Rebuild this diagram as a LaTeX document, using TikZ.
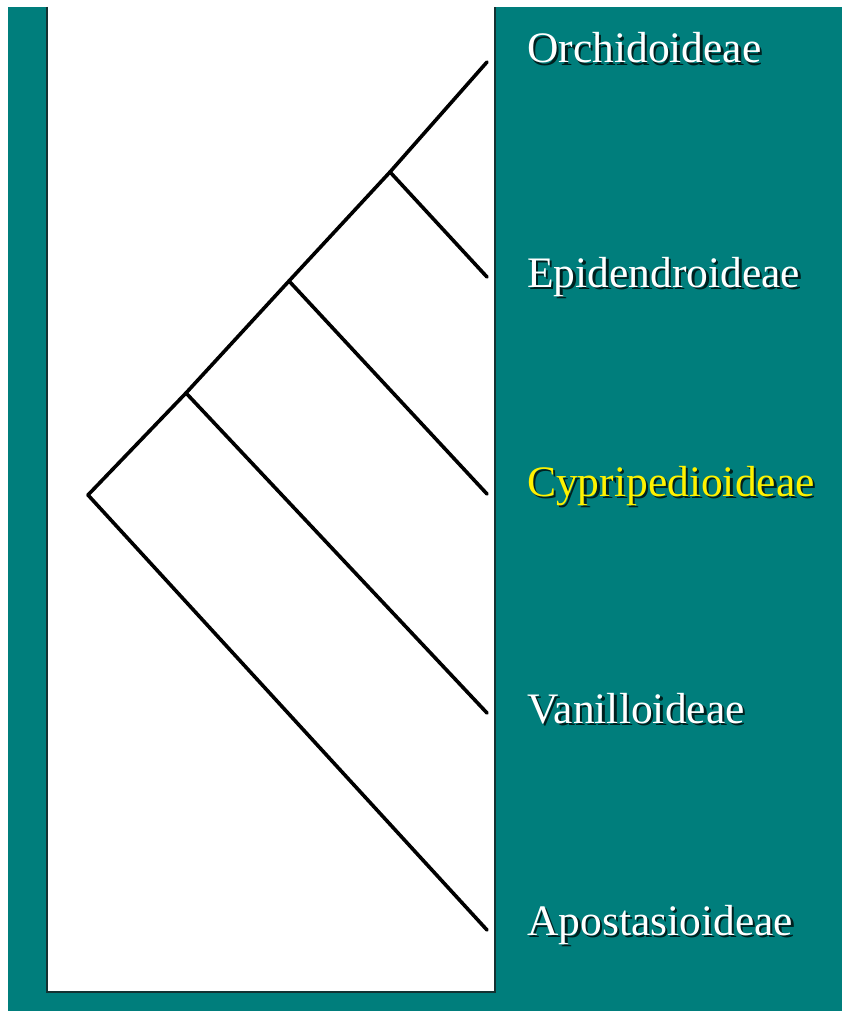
\documentclass[tikz,border=0pt]{standalone}
\usepackage{fontspec}
\setmainfont{Liberation Serif}
\definecolor{tealbg}{RGB}{0,126,124}
\definecolor{edge}{RGB}{20,50,50}
\colorlet{shadowcol}{black!75!tealbg}
\newcommand{\shtext}[2]{\makebox[0pt][l]{\hspace{2.5pt}\raisebox{-2.5pt}{\textcolor{shadowcol}{#2}}}\textcolor{#1}{#2}}
\begin{document}
\begin{tikzpicture}[x=1pt,y=-1pt,
  branch/.style={line width=3.6pt, black, line cap=round, line join=round},
  lab/.style={anchor=base west, inner sep=0pt, font=\fontsize{43.5}{50}\selectfont}]
\useasboundingbox (0,0) rectangle (842,1011);
\fill[white] (0,0) rectangle (842,1011);
\fill[tealbg] (8,7) rectangle (842,1011);
\fill[white] (47,7) rectangle (495,992);
\draw[line width=2pt, edge] (47,7) -- (47,992) -- (495,992) -- (495,7);
% tree coordinates
\coordinate (root) at (88,495);
\coordinate (n1) at (186,393);
\coordinate (n2) at (289,281);
\coordinate (n3) at (390,172);
\coordinate (lO) at (487,62);
\coordinate (lE) at (487,277);
\coordinate (lC) at (487,494);
\coordinate (lV) at (487,713);
\coordinate (lA) at (487,930);
% branches
\draw[branch] (root) -- (n1) -- (n2) -- (n3) -- (lO);
\draw[branch] (n3) -- (lE);
\draw[branch] (n2) -- (lC);
\draw[branch] (n1) -- (lV);
\draw[branch] (root) -- (lA);
% labels
\node[lab] (tO) at (527,63) {\shtext{white}{Orchidoideae}};
\node[lab] (tE) at (527,287) {\shtext{white}{Epidendroideae}};
\node[lab] (tC) at (527,496) {\shtext{yellow}{Cypripedioideae}};
\node[lab] (tV) at (527,723) {\shtext{white}{Vanilloideae}};
\node[lab] (tA) at (527,935) {\shtext{white}{Apostasioideae}};
\end{tikzpicture}
\end{document}
